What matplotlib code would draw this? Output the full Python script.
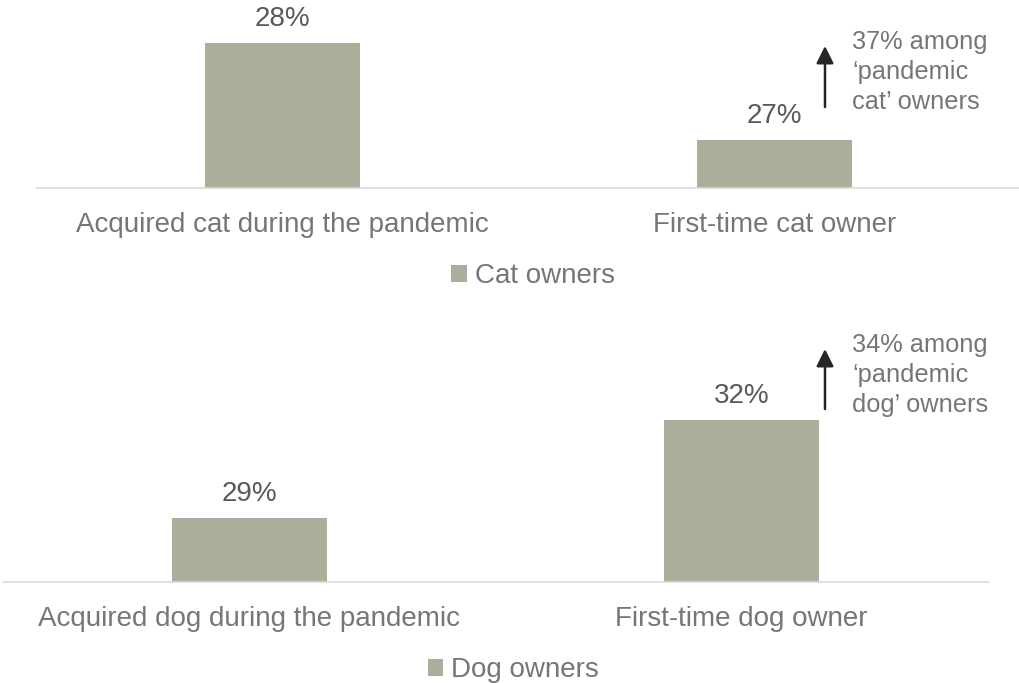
import matplotlib.pyplot as plt

plt.rcParams['font.family'] = ['Liberation Sans', 'DejaVu Sans']

# data
cat_labels = ["Acquired cat during the pandemic", "First-time cat owner"]
cat_values = [28, 27]
dog_labels = ["Acquired dog during the pandemic", "First-time dog owner"]
dog_values = [29, 32]
cat_note = "37% among\n\u2018pandemic\ncat\u2019 owners"
dog_note = "34% among\n\u2018pandemic\ndog\u2019 owners"

W, H = 1020, 683
BAR = "#ADAD9C"
VAL = "#595959"
CAT = "#767676"
AXIS = "#D9D9D9"

fig = plt.figure(figsize=(W / 100, H / 100), dpi=100)


def px_axes(left, top, right, bottom):
    # axes box given in pixel coordinates measured from the top-left corner
    return fig.add_axes([left / W, 1 - bottom / H, (right - left) / W, (bottom - top) / H])


def panel(ax, labels, values, ylim, legend_label, legend_xy):
    xs = range(len(values))
    ax.bar(xs, values, width=0.315, color=BAR, label=legend_label, zorder=2)
    ax.set_xlim(-0.5, len(values) - 0.5)
    ax.set_ylim(*ylim)
    for s in ["top", "right", "left"]:
        ax.spines[s].set_visible(False)
    ax.spines["bottom"].set_color(AXIS)
    ax.spines["bottom"].set_linewidth(1.2)
    ax.set_xticks([])
    ax.set_yticks([])
    ax.patch.set_alpha(0)
    for x, v, lab in zip(xs, values, labels):
        ax.annotate(f"{v}%", xy=(x, v), xytext=(0, 24), textcoords="offset pixels",
                    ha="center", va="center", fontsize=20, color=VAL)
        ax.annotate(lab, xy=(x, ylim[0]), xytext=(0, -37), textcoords="offset pixels",
                    ha="center", va="center", fontsize=20, color=CAT, annotation_clip=False)
    ax.legend(loc="center", bbox_to_anchor=(legend_xy[0] / W, 1 - legend_xy[1] / H),
              bbox_transform=fig.transFigure, frameon=False, fontsize=20,
              handlelength=0.55, handleheight=0.55, handletextpad=0.28,
              borderpad=0, labelcolor=CAT)


def note(text, arrow_x, y0, y1, text_x, text_y):
    fig.add_artist(plt.Annotation("", xy=(arrow_x / W, 1 - y1 / H), xycoords="figure fraction",
                                  xytext=(arrow_x / W, 1 - y0 / H), textcoords="figure fraction",
                                  arrowprops=dict(arrowstyle="-|>", color="#262626", lw=1.8,
                                                  mutation_scale=26, shrinkA=0, shrinkB=0)))
    fig.text(text_x / W, 1 - text_y / H, text, ha="left", va="center", fontsize=18.3,
             color=CAT, linespacing=1.33)


# top panel: 97 px per percentage point, baseline at y=188
ax1 = px_axes(37, 0, 1020, 188)
panel(ax1, cat_labels, cat_values, (26.505, 26.505 + 188 / 97), "Cat owners", (533, 276))
note(cat_note, 825, 107, 46, 852, 72)

# bottom panel: 32.7 px per percentage point, baseline at y=582
ax2 = px_axes(3, 330, 988, 582)
panel(ax2, dog_labels, dog_values, (27.04, 27.04 + 252 / 32.67), "Dog owners", (513, 670))
note(dog_note, 825, 409, 349, 852, 375)

fig.savefig("out.png", dpi=100)
